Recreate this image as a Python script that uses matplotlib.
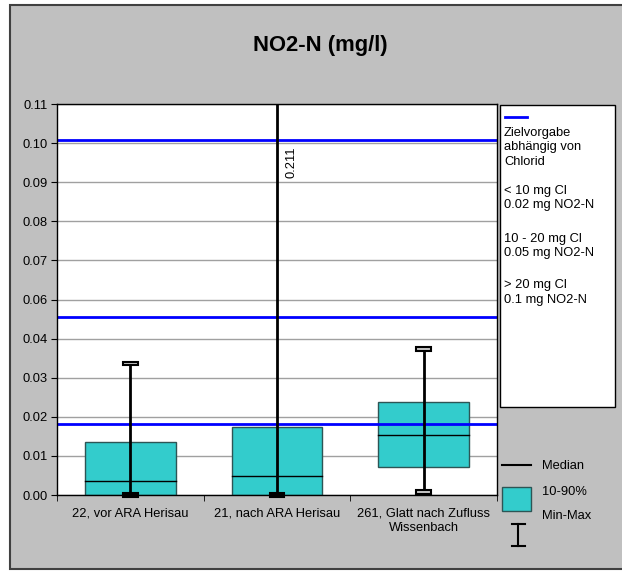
import numpy as np
import matplotlib
matplotlib.use('Agg')
import matplotlib.pyplot as plt
from matplotlib.patches import Rectangle
from matplotlib.lines import Line2D

plt.rcParams['font.family'] = ['Liberation Sans', 'DejaVu Sans']

# data
stations = ['22, vor ARA Herisau', '21, nach ARA Herisau', '261, Glatt nach Zufluss\nWissenbach']
p10 = [0.0, 0.0, 0.0079]
p90 = [0.0149, 0.0190, 0.0261]
median = [0.0039, 0.0054, 0.0169]
vmin = [0.0, 0.0, 0.0009]
vmax = [0.037, 0.211, 0.041]
limits = [0.02, 0.05, 0.1]   # Zielvorgabe je nach Chlorid

# Excel axis: max 0.11, 10 steps, labels rounded to 2 decimals
ytick_vals = [i * 0.011 for i in range(11)]
ytick_labels = ['0.00', '0.01', '0.02', '0.03', '0.04', '0.06', '0.07', '0.08', '0.09', '0.10', '0.11']
ymax = 0.11

W, H = 622, 571
fig = plt.figure(figsize=(W / 100, H / 100), dpi=100)
fig.patch.set_facecolor('white')

def fx(px):
    return px / W

def fy(py):
    return 1 - py / H

# gray chart area
fig.patches.append(Rectangle((fx(10), fy(569)), fx(640) - fx(10), fy(5) - fy(569),
                             transform=fig.transFigure, facecolor='#c0c0c0',
                             edgecolor='#404040', lw=1.5, zorder=-2))

ax = fig.add_axes([fx(57), fy(495), fx(497) - fx(57), fy(104) - fy(495)])
ax.set_facecolor('white')

x = np.arange(len(stations))
box_w = 0.62
cap_w = 0.1
cap_h = 0.0011

for yv in ytick_vals:
    ax.axhline(yv, color='#a0a0a0', lw=1, zorder=1)

ax.bar(x, np.array(p90) - np.array(p10), bottom=p10, width=box_w, color='#33cccc',
       edgecolor='#2d5555', lw=1, zorder=2)
for i in range(len(x)):
    ax.plot([x[i] - box_w / 2, x[i] + box_w / 2], [median[i], median[i]], color='black', lw=1, zorder=2.5)

for lim in limits:
    ax.axhline(lim, color='#0000ff', lw=2, zorder=3)

for i in range(len(x)):
    ax.plot([x[i], x[i]], [vmin[i], min(vmax[i], ymax)], color='black', lw=2, zorder=4)
    for v in (vmin[i], vmax[i]):
        if v <= ymax:
            # caps sitting on the axis look solid black in the original
            face = 'black' if v <= 0 else '#c8c8c8'
            ax.bar(x[i], cap_h, bottom=v - cap_h / 2, width=cap_w, color=face,
                   edgecolor='black', lw=1.5, zorder=7, clip_on=False)
    if vmax[i] > ymax:
        ax.text(x[i] + 0.1, 0.0935, '%.3f' % vmax[i], rotation=90, ha='center', va='center',
                fontsize=9.3, zorder=6)

ax.set_xlim(-0.5, len(stations) - 0.5)
ax.set_ylim(0, ymax)
ax.set_yticks(ytick_vals)
ax.set_yticklabels(ytick_labels)
ax.set_xticks(x)
ax.set_xticklabels(stations, fontsize=9.3, linespacing=1.25)
ax.set_xticks(np.arange(len(stations) + 1) - 0.5, minor=True)
ax.tick_params(axis='x', which='major', length=0, pad=9)
ax.tick_params(axis='x', which='minor', length=4, direction='out')
ax.tick_params(axis='y', length=4, direction='out', labelsize=9.3, pad=3)
for s in ax.spines.values():
    s.set_color('black')
    s.set_linewidth(1)
    s.set_zorder(6)

fig.text(fx(320), fy(45), 'NO2-N (mg/l)', ha='center', va='center', fontsize=15.8, fontweight='bold')

# legend for the target lines
fig.patches.append(Rectangle((fx(500), fy(407)), fx(615) - fx(500), fy(105) - fy(407),
                             transform=fig.transFigure, facecolor='white', edgecolor='black',
                             lw=1, zorder=1))
fig.lines.append(Line2D([fx(505), fx(527)], [fy(117), fy(117)], transform=fig.transFigure,
                        color='#0000ff', lw=2))
legend_lines = [('Zielvorgabe', 133), ('abhängig von', 147), ('Chlorid', 162),
                ('< 10 mg Cl', 191), ('0.02 mg NO2-N', 205),
                ('10 - 20 mg Cl', 239), ('0.05 mg NO2-N', 253),
                ('> 20 mg Cl', 285), ('0.1 mg NO2-N', 300)]
for txt, py in legend_lines:
    fig.text(fx(504), fy(py), txt, ha='left', va='center', fontsize=9.3)

# legend for the box symbols
fig.lines.append(Line2D([fx(502), fx(531)], [fy(464.5), fy(464.5)], transform=fig.transFigure,
                        color='black', lw=1.5))
fig.patches.append(Rectangle((fx(502), fy(511)), fx(531) - fx(502), fy(487) - fy(511),
                             transform=fig.transFigure, facecolor='#33cccc',
                             edgecolor='#2d5555', lw=1))
fig.lines.append(Line2D([fx(518), fx(518)], [fy(523.5), fy(545.5)], transform=fig.transFigure,
                        color='black', lw=1.5))
for py in (523.5, 545.5):
    fig.lines.append(Line2D([fx(512), fx(525)], [fy(py), fy(py)], transform=fig.transFigure,
                            color='black', lw=1.5))
fig.text(fx(542), fy(466), 'Median', ha='left', va='center', fontsize=9.3)
fig.text(fx(542), fy(492), '10-90%', ha='left', va='center', fontsize=9.3)
fig.text(fx(542), fy(516), 'Min-Max', ha='left', va='center', fontsize=9.3)

fig.savefig('out.png', dpi=100, facecolor=fig.get_facecolor())
